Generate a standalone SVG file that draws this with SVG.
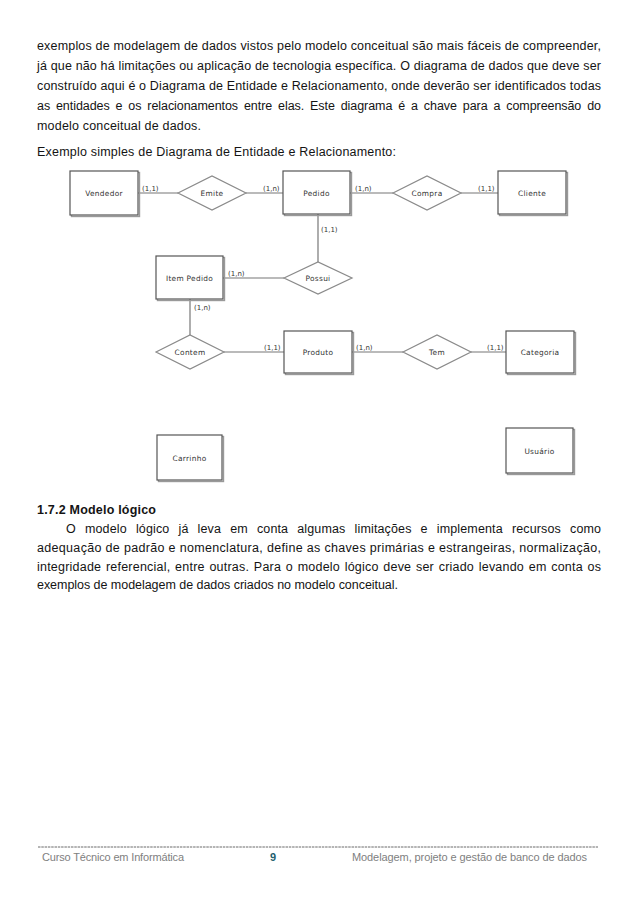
<svg xmlns="http://www.w3.org/2000/svg" width="638" height="903" viewBox="0 0 638 903">
<style>
.body{font-family:"Liberation Sans",Arial,sans-serif;font-size:12.5px;fill:#141414}
.bold{font-weight:bold}
.ent rect.box{fill:#fff;stroke:#555;stroke-width:1.2}
.ent rect.sh{fill:none;stroke:#999;stroke-width:1.4}
.rel polygon{fill:#fff;stroke:#8a8a8a;stroke-width:1.2}
.lbl{font-family:"DejaVu Sans",sans-serif;font-size:7.4px;fill:#333;text-anchor:middle;letter-spacing:0.3px}
.card{font-family:"DejaVu Sans",sans-serif;font-size:7px;fill:#333}
.conn line{stroke:#777;stroke-width:1.2}
.foot{font-family:"Liberation Sans",Arial,sans-serif;font-size:11px;fill:#808080}
</style>
<rect width="638" height="903" fill="#fff"/>

<g id="text-top">
<text class="body" x="37" y="50" textLength="564" lengthAdjust="spacing">exemplos de modelagem de dados vistos pelo modelo conceitual são mais fáceis de compreender,</text>
<text class="body" x="37" y="70" textLength="564" lengthAdjust="spacing">já que não há limitações ou aplicação de tecnologia específica. O diagrama de dados que deve ser</text>
<text class="body" x="37" y="90" textLength="564" lengthAdjust="spacing">construído aqui é o Diagrama de Entidade e Relacionamento, onde deverão ser identificados todas</text>
<text class="body" x="37" y="110" word-spacing="2.5" textLength="564" lengthAdjust="spacing">as entidades e os relacionamentos entre elas. Este diagrama é a chave para a compreensão do</text>
<text class="body" x="37" y="130" textLength="164" lengthAdjust="spacing">modelo conceitual de dados.</text>
<text class="body" x="37" y="156" textLength="359" lengthAdjust="spacing">Exemplo simples de Diagrama de Entidade e Relacionamento:</text>
</g>

<g id="connectors" class="conn">
<line x1="138" y1="193" x2="178" y2="193"/>
<line x1="246" y1="193" x2="283" y2="193"/>
<line x1="350" y1="193" x2="393" y2="193"/>
<line x1="461" y1="193" x2="498" y2="193"/>
<line x1="318" y1="214" x2="318" y2="262"/>
<line x1="223" y1="278" x2="284" y2="278"/>
<line x1="190" y1="299" x2="190" y2="335"/>
<line x1="224" y1="352" x2="284" y2="352"/>
<line x1="352" y1="352" x2="403" y2="352"/>
<line x1="471" y1="352" x2="506" y2="352"/>
<text class="card" x="142" y="191">(1,1)</text>
<text class="card" x="263" y="191">(1,n)</text>
<text class="card" x="355" y="191">(1,n)</text>
<text class="card" x="478" y="191">(1,1)</text>
<text class="card" x="321" y="232">(1,1)</text>
<text class="card" x="228" y="276">(1,n)</text>
<text class="card" x="194" y="310">(1,n)</text>
<text class="card" x="264" y="350">(1,1)</text>
<text class="card" x="356" y="350">(1,n)</text>
<text class="card" x="487" y="350">(1,1)</text>
</g>

<g id="vendedor" class="ent"><rect class="sh" x="71.5" y="172.5" width="68" height="44"/><rect class="box" x="70" y="171" width="68" height="44"/><text class="lbl" x="104" y="196">Vendedor</text></g>
<g id="emite" class="rel"><polygon points="178,193 212,176 246,193 212,210"/><text class="lbl" x="212" y="196">Emite</text></g>
<g id="pedido" class="ent"><rect class="sh" x="284.5" y="172.5" width="67" height="43"/><rect class="box" x="283" y="171" width="67" height="43"/><text class="lbl" x="316.5" y="195.5">Pedido</text></g>
<g id="compra" class="rel"><polygon points="393,193 427,176 461,193 427,210"/><text class="lbl" x="427" y="196">Compra</text></g>
<g id="cliente" class="ent"><rect class="sh" x="499.5" y="172.5" width="68" height="43"/><rect class="box" x="498" y="171" width="68" height="43"/><text class="lbl" x="532" y="195.5">Cliente</text></g>
<g id="possui" class="rel"><polygon points="284,278 318,262 352,278 318,294"/><text class="lbl" x="318" y="281">Possui</text></g>
<g id="item-pedido" class="ent"><rect class="sh" x="157.5" y="257.5" width="67" height="43"/><rect class="box" x="156" y="256" width="67" height="43"/><text class="lbl" x="189.5" y="280.5">Item Pedido</text></g>
<g id="contem" class="rel"><polygon points="156,352 190,335 224,352 190,369"/><text class="lbl" x="190" y="355">Contem</text></g>
<g id="produto" class="ent"><rect class="sh" x="285.5" y="332.5" width="68" height="42"/><rect class="box" x="284" y="331" width="68" height="42"/><text class="lbl" x="318" y="355">Produto</text></g>
<g id="tem" class="rel"><polygon points="403,352 437,335 471,352 437,369"/><text class="lbl" x="437" y="355">Tem</text></g>
<g id="categoria" class="ent"><rect class="sh" x="507.5" y="332.5" width="68" height="42"/><rect class="box" x="506" y="331" width="68" height="42"/><text class="lbl" x="540" y="355">Categoria</text></g>
<g id="carrinho" class="ent"><rect class="sh" x="158.5" y="436.5" width="65" height="45"/><rect class="box" x="157" y="435" width="65" height="45"/><text class="lbl" x="189.5" y="460.5">Carrinho</text></g>
<g id="usuario" class="ent"><rect class="sh" x="507.5" y="429.5" width="67" height="45"/><rect class="box" x="506" y="428" width="67" height="45"/><text class="lbl" x="539.5" y="453.5">Usuário</text></g>

<g id="text-bottom">
<text class="body bold" x="37" y="514" textLength="119" lengthAdjust="spacing">1.7.2 Modelo lógico</text>
<text class="body" x="66" y="533" word-spacing="5.5" textLength="535" lengthAdjust="spacing">O modelo lógico já leva em conta algumas limitações e implementa recursos como</text>
<text class="body" x="37" y="552" textLength="564" lengthAdjust="spacing">adequação de padrão e nomenclatura, define as chaves primárias e estrangeiras, normalização,</text>
<text class="body" x="37" y="571" word-spacing="1" textLength="564" lengthAdjust="spacing">integridade referencial, entre outras. Para o modelo lógico deve ser criado levando em conta os</text>
<text class="body" x="37" y="589" textLength="361" lengthAdjust="spacing">exemplos de modelagem de dados criados no modelo conceitual.</text>
</g>

<g id="footer">
<line x1="38" y1="847" x2="598" y2="847" stroke="#444" stroke-width="0.8" stroke-dasharray="2.5,0.8"/>
<text class="foot" x="42" y="861" textLength="142" lengthAdjust="spacing">Curso Técnico em Informática</text>
<text class="foot" x="270" y="861" style="fill:#1e5e6e;font-weight:bold">9</text>
<text class="foot" x="352" y="861" textLength="235" lengthAdjust="spacing">Modelagem, projeto e gestão de banco de dados</text>
</g>
</svg>
